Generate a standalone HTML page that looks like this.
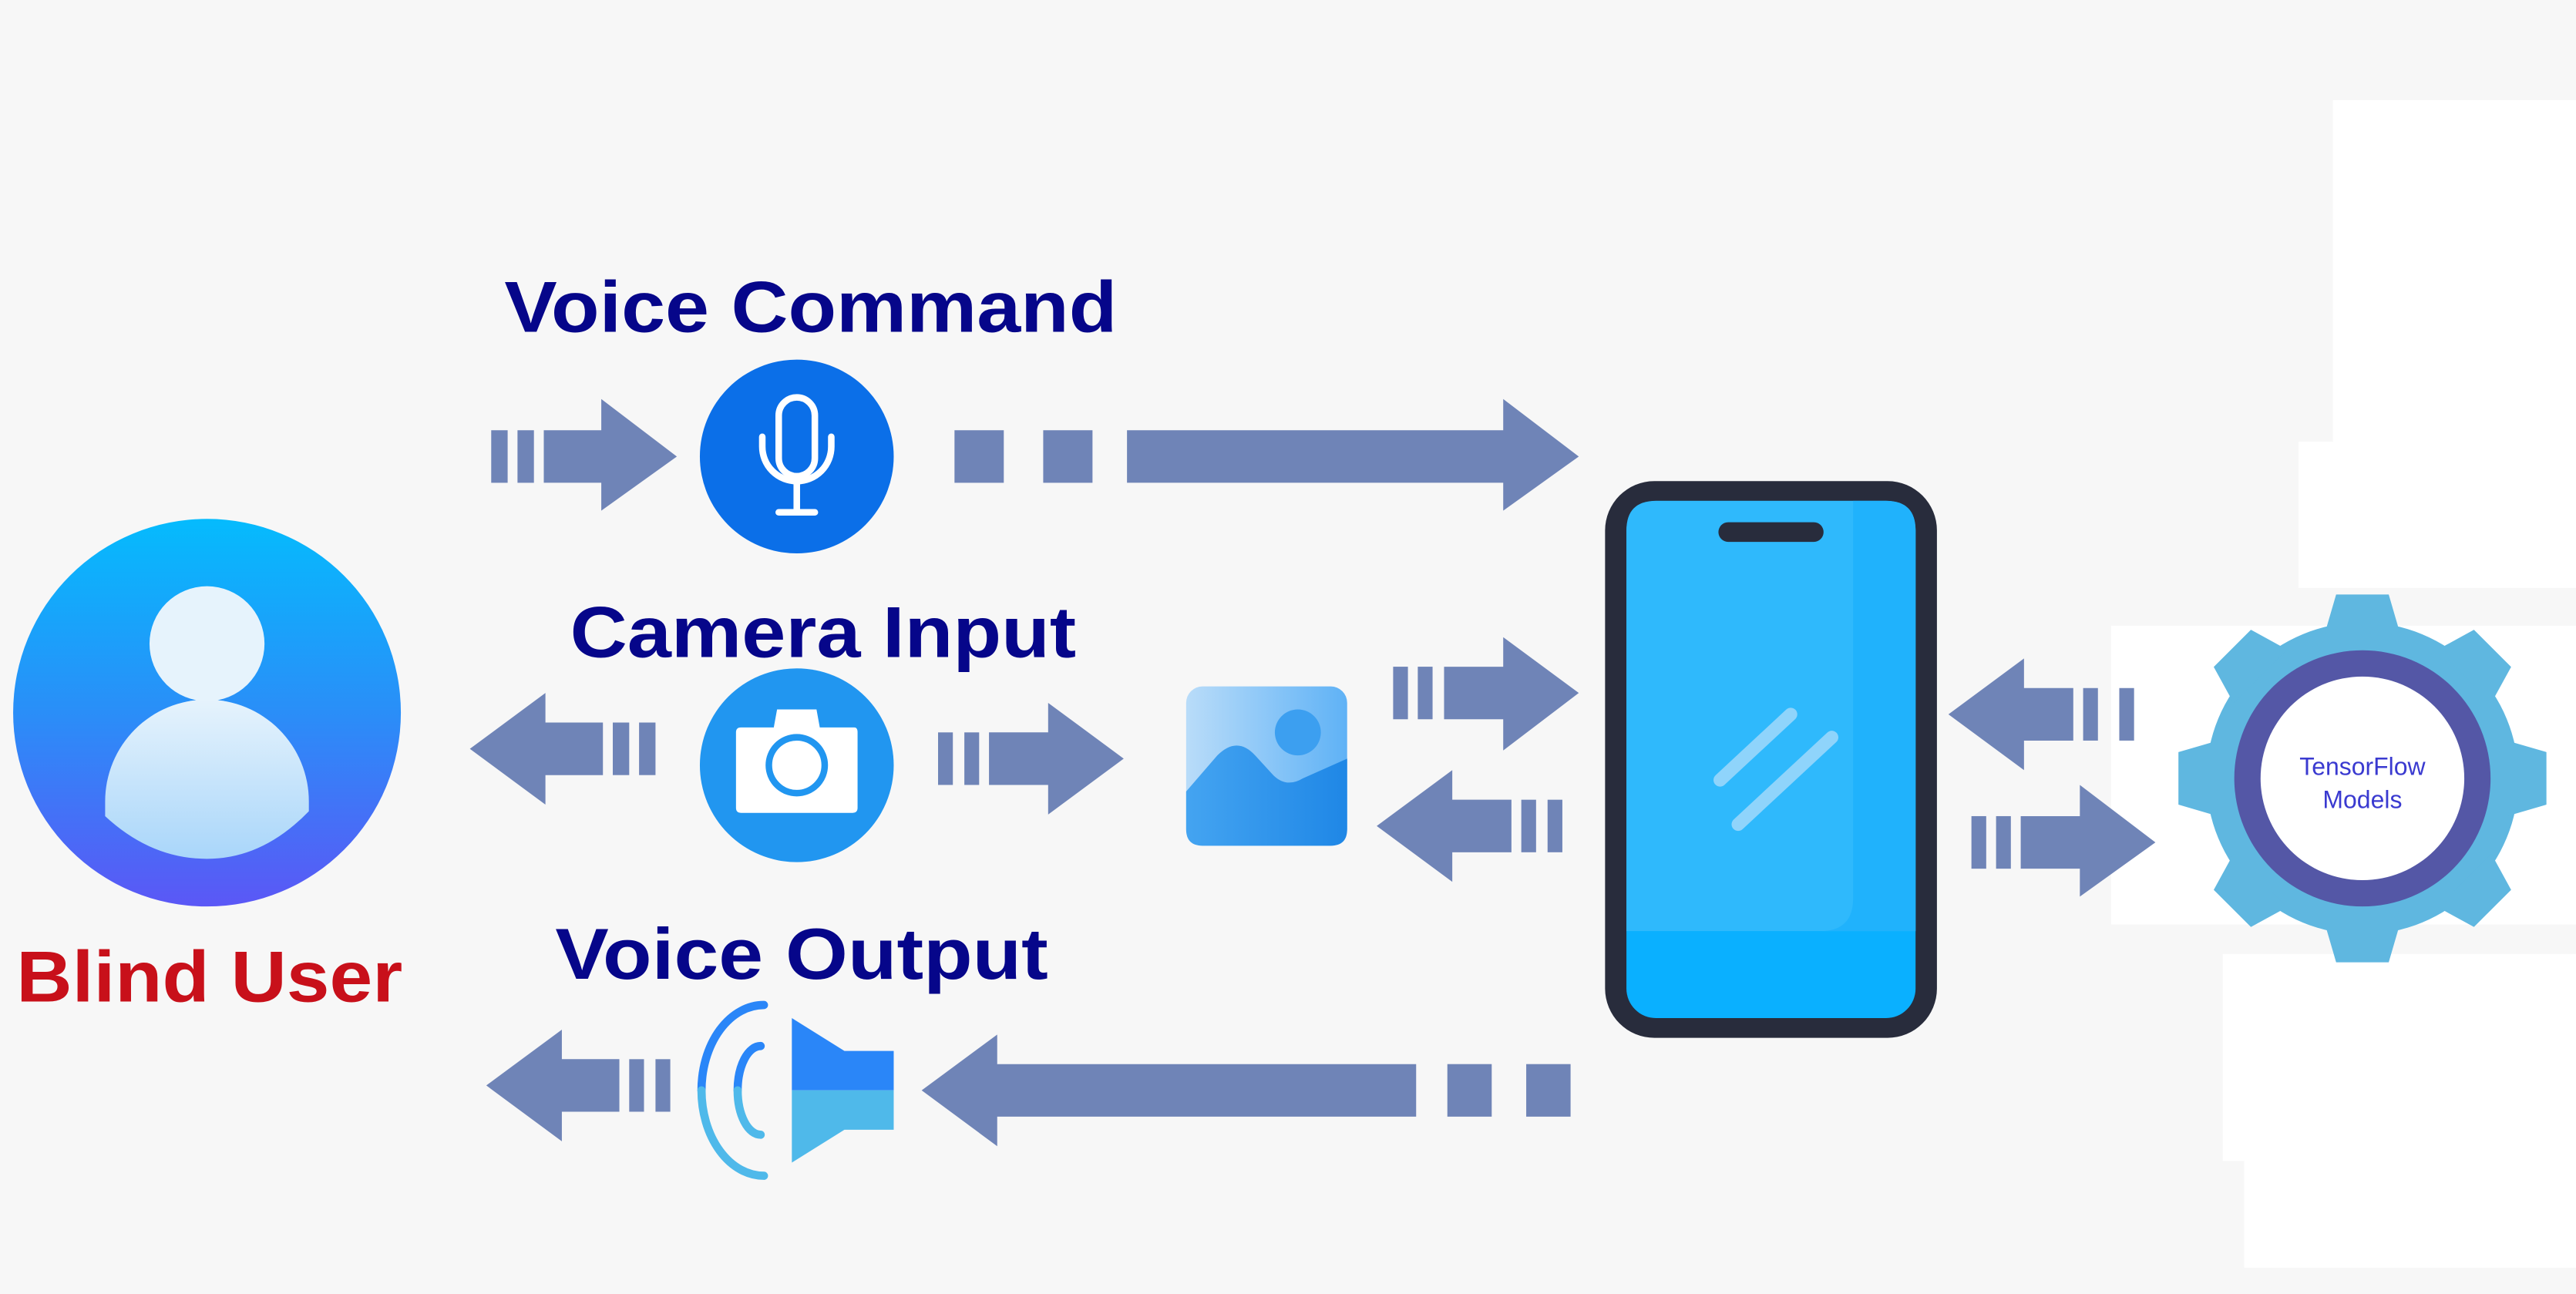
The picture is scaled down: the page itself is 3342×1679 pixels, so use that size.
<!DOCTYPE html>
<html><head><style>html,body{margin:0;padding:0;background:#f7f7f7;}svg{display:block}</style></head>
<body>
<svg width="3342" height="1679" viewBox="0 0 1568 788" preserveAspectRatio="none" xmlns="http://www.w3.org/2000/svg">
<defs>
<linearGradient id="ug" x1="0" y1="0" x2="0" y2="1"><stop offset="0" stop-color="#05bbfd"/><stop offset="0.5" stop-color="#2a8ef8"/><stop offset="1" stop-color="#5b57f6"/></linearGradient>
<linearGradient id="bg" x1="0" y1="0" x2="0" y2="1"><stop offset="0" stop-color="#e6f3fc"/><stop offset="1" stop-color="#a9d6fa"/></linearGradient>
<linearGradient id="ig" x1="0" y1="0" x2="1" y2="0"><stop offset="0" stop-color="#b9dcf9"/><stop offset="1" stop-color="#5fb2f6"/></linearGradient>
<linearGradient id="ig2" x1="0" y1="0" x2="1" y2="0"><stop offset="0" stop-color="#44a4f1"/><stop offset="1" stop-color="#1f87e6"/></linearGradient>
</defs>
<rect width="1568" height="788" fill="#f7f7f7"/>
<g fill="#ffffff">
<rect x="1420" y="61" width="148" height="209"/>
<rect x="1399" y="269" width="169" height="89"/>
<rect x="1285" y="381" width="283" height="182"/>
<rect x="1353" y="581" width="215" height="126"/>
<rect x="1366" y="700" width="202" height="72"/>
</g>
<g font-family="Liberation Sans, sans-serif" font-weight="bold" font-size="44" fill="#06068a" lengthAdjust="spacingAndGlyphs">
<text x="307" y="202" textLength="373" lengthAdjust="spacingAndGlyphs">Voice Command</text>
<text x="347" y="400" textLength="308" lengthAdjust="spacingAndGlyphs">Camera Input</text>
<text x="338" y="596" textLength="300" lengthAdjust="spacingAndGlyphs">Voice Output</text>
</g>
<text x="10" y="610" font-family="Liberation Sans, sans-serif" font-weight="bold" font-size="44" fill="#c8101a" textLength="235" lengthAdjust="spacingAndGlyphs">Blind User</text>
<circle cx="126" cy="434" r="118" fill="url(#ug)"/>
<circle cx="126" cy="392" r="35" fill="#e6f3fc"/>
<path d="M64,490 L64,488 A62,62 0 0 1 188,488 L188,494 Q160,523 126,523 Q92,523 64,497 Z" fill="url(#bg)"/>
<g fill="#6f84b7">
<rect x="299" y="262" width="10" height="32"/><rect x="315" y="262" width="10" height="32"/>
<polygon points="331,262 366,262 366,243 412,278 366,311 366,294 331,294"/>
<rect x="581" y="262" width="30" height="32"/><rect x="635" y="262" width="30" height="32"/>
<polygon points="686,262 915,262 915,243 961,278 915,311 915,294 686,294"/>
<polygon points="286,456 332,422 332,440 367,440 367,472 332,472 332,490"/>
<rect x="373" y="440" width="10" height="32"/><rect x="389" y="440" width="10" height="32"/>
<rect x="571" y="446" width="9" height="32"/><rect x="587" y="446" width="9" height="32"/>
<polygon points="602,446 638,446 638,428 684,462 638,496 638,478 602,478"/>
<rect x="848" y="406" width="9" height="32"/><rect x="863" y="406" width="9" height="32"/>
<polygon points="879,406 915,406 915,388 961,422 915,457 915,438 879,438"/>
<polygon points="838,503 884,469 884,487 920,487 920,519 884,519 884,537"/>
<rect x="926" y="487" width="9" height="32"/><rect x="942" y="487" width="9" height="32"/>
<polygon points="1186,435 1232,401 1232,419 1262,419 1262,451 1232,451 1232,469"/>
<rect x="1268" y="419" width="9" height="32"/><rect x="1290" y="419" width="9" height="32"/>
<rect x="1200" y="497" width="9" height="32"/><rect x="1215" y="497" width="9" height="32"/>
<polygon points="1230,497 1266,497 1266,478 1312,513 1266,546 1266,529 1230,529"/>
<polygon points="561,664 607,630 607,648 862,648 862,680 607,680 607,698"/>
<rect x="881" y="648" width="27" height="32"/><rect x="929" y="648" width="27" height="32"/>
<polygon points="296,661 342,627 342,645 377,645 377,677 342,677 342,695"/>
<rect x="383" y="645" width="9" height="32"/><rect x="399" y="645" width="9" height="32"/>
</g>
<circle cx="485" cy="278" r="59" fill="#0b6fe8"/>
<g fill="none" stroke="#fff" stroke-width="4" stroke-linecap="round">
<rect x="474" y="242" width="22" height="48" rx="11"/>
<path d="M464,266 L464,272 A21,21 0 0 0 506,272 L506,266"/>
<line x1="485" y1="294" x2="485" y2="311"/>
<line x1="474" y1="312" x2="496" y2="312"/>
</g>
<circle cx="485" cy="466" r="59" fill="#2196f0"/>
<path d="M473,432 L497,432 L499,443 L520,443 Q522,443 522,446 L522,492 Q522,495 519,495 L451,495 Q448,495 448,492 L448,446 Q448,443 451,443 L471,443 Z" fill="#fff"/>
<circle cx="485" cy="466" r="17" fill="none" stroke="#2196f0" stroke-width="4"/>
<rect x="722" y="418" width="98" height="97" rx="10" fill="url(#ig)"/>
<path d="M722,482 L741,460 Q753,448 764,460 L775,472 Q783,480 793,474 L820,462 L820,505 Q820,515 810,515 L732,515 Q722,515 722,505 Z" fill="url(#ig2)"/>
<circle cx="790" cy="446" r="14" fill="#3c9ff0"/>
<!-- speaker -->
<polygon points="482,620 514,640 544,640 544,664 482,664" fill="#2a86f8"/>
<polygon points="482,664 544,664 544,688 514,688 482,708" fill="#4fb9ea"/>
<g fill="none" stroke-width="5" stroke-linecap="round">
<path d="M465,612 A38,52 0 0 0 427,664" stroke="#2a86f8"/>
<path d="M427,664 A38,52 0 0 0 465,716" stroke="#4fb9ea"/>
<path d="M463,637 A14,27 0 0 0 449,664" stroke="#2a86f8"/>
<path d="M449,664 A14,27 0 0 0 463,691" stroke="#4fb9ea"/>
</g>
<rect x="977" y="293" width="202" height="339" rx="30" fill="#282c3c"/>
<rect x="990" y="305" width="176" height="315" rx="18" fill="#0ab0ff"/>
<path d="M1008,305 L1148,305 Q1166,305 1166,323 L1166,567 L990,567 L990,323 Q990,305 1008,305 Z" fill="#2fb9fc"/>
<path d="M1128,305 L1148,305 Q1166,305 1166,323 L1166,567 L1108,567 Q1128,567 1128,547 Z" fill="#20b2fc"/>
<rect x="1046" y="318" width="64" height="12" rx="6" fill="#282c3c"/>
<g stroke="#8fd4fb" stroke-width="8" stroke-linecap="round">
<line x1="1047" y1="475" x2="1090" y2="435"/>
<line x1="1058" y1="502" x2="1115" y2="449"/>
</g>
<g transform="translate(1438,474)">
<g fill="#5fb7e0">
<circle r="95"/>
<g id="t"><polygon points="-23,-88 -16,-112 16,-112 23,-88"/></g>
<use href="#t" transform="rotate(45)"/><use href="#t" transform="rotate(90)"/><use href="#t" transform="rotate(135)"/>
<use href="#t" transform="rotate(180)"/><use href="#t" transform="rotate(225)"/><use href="#t" transform="rotate(270)"/><use href="#t" transform="rotate(315)"/>
</g>
<circle r="78" fill="#5457a6"/>
<circle r="62" fill="#fff"/>
<text y="-2" text-anchor="middle" font-family="Liberation Sans, sans-serif" font-size="15" fill="#3a3ad0">TensorFlow</text>
<text y="18" text-anchor="middle" font-family="Liberation Sans, sans-serif" font-size="15" fill="#3a3ad0">Models</text>
</g>
</svg>
</body></html>
